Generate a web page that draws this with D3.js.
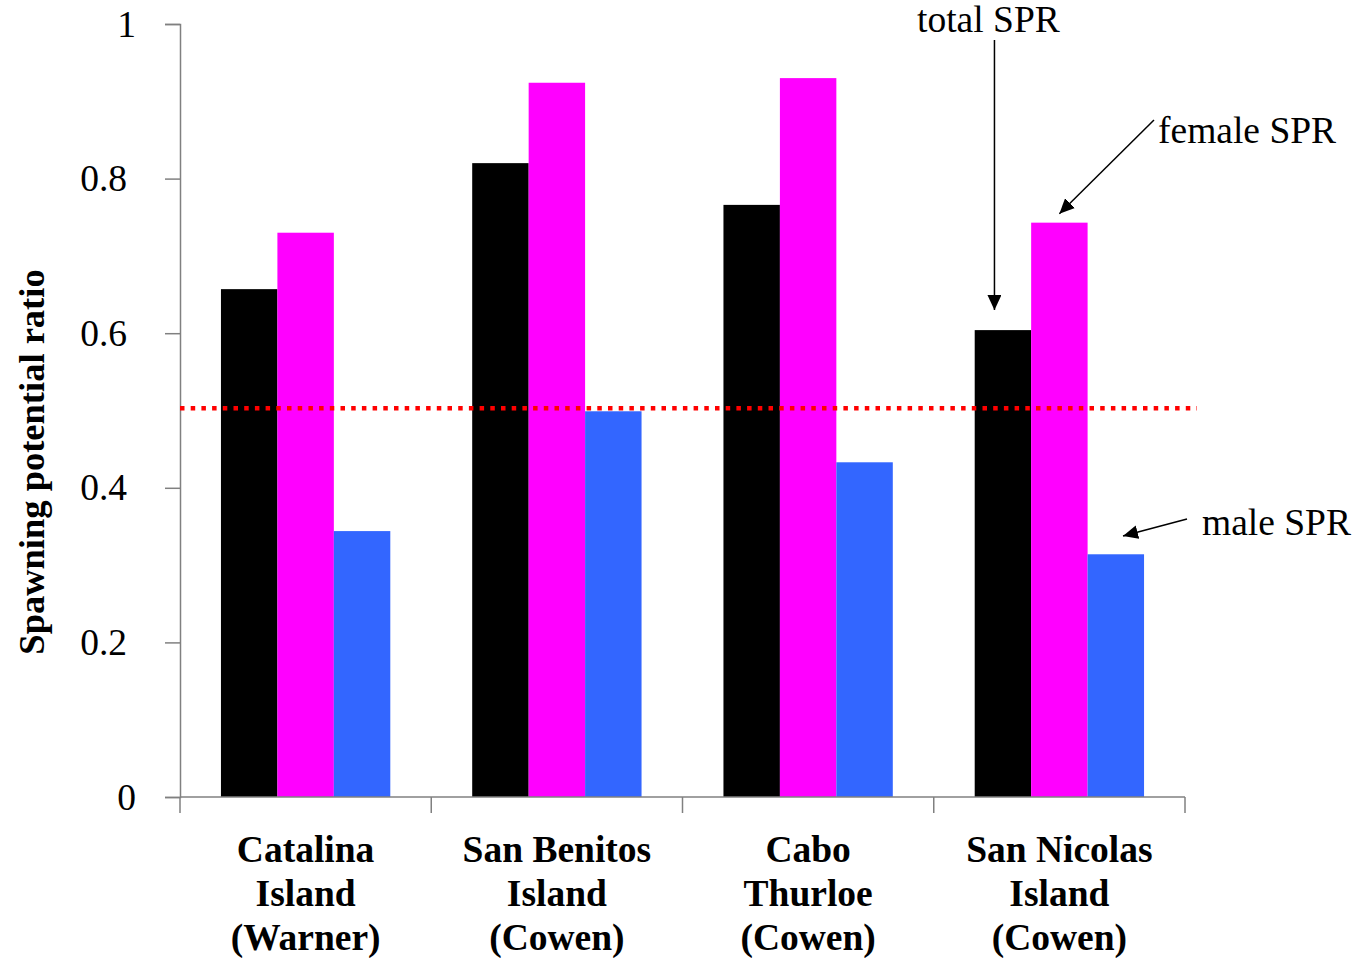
<!DOCTYPE html>
<html>
<head>
<meta charset="utf-8">
<script src="https://cdn.jsdelivr.net/npm/d3@7/dist/d3.min.js"></script>
<style>
  html, body { margin: 0; padding: 0; background: #fff; }
  svg { display: block; }
  text { font-family: "Liberation Serif", "Times New Roman", serif; }
</style>
</head>
<body>
<svg id="chart" width="1356" height="958"></svg>
<script>
const categories = [
  ["Catalina", "Island", "(Warner)"],
  ["San Benitos", "Island", "(Cowen)"],
  ["Cabo", "Thurloe", "(Cowen)"],
  ["San Nicolas", "Island", "(Cowen)"]
];
const seriesNames = ["total SPR", "female SPR", "male SPR"];
const totalSPR  = [0.657, 0.820, 0.766, 0.604];
const femaleSPR = [0.730, 0.924, 0.930, 0.743];
const maleSPR   = [0.344, 0.499, 0.433, 0.314];
const referenceLevel = 0.503;
const yTicks = [0, 0.2, 0.4, 0.6, 0.8, 1];
const yTickLabels = ["0", "0.2", "0.4", "0.6", "0.8", "1"];
const colors = ["#000000", "#FF00FF", "#3366FF"];

const svg = d3.select("#chart");
const plotLeft = 180, plotRight = 1185, plotTop = 24, plotBottom = 797;
const FS = 37.5;

const catKeys = categories.map((c, i) => i);
const x0 = d3.scaleBand().domain(catKeys).range([plotLeft, plotRight]).padding(0);
const bw = x0.bandwidth();
const x1 = d3.scaleBand().domain(seriesNames).range([bw * 0.163, bw * 0.837]).padding(0);
const y = d3.scaleLinear().domain([0, 1]).range([plotBottom, plotTop]);

const seriesValues = [totalSPR, femaleSPR, maleSPR];

// bars
seriesNames.forEach((s, si) => {
  svg.append("g").selectAll("rect")
    .data(seriesValues[si])
    .join("rect")
    .attr("x", (d, i) => x0(i) + x1(s))
    .attr("y", d => y(d))
    .attr("width", x1.bandwidth())
    .attr("height", d => y(0) - y(d))
    .attr("fill", colors[si]);
});

// y axis
const yAxis = d3.axisLeft(y).tickValues(yTicks)
  .tickFormat((d, i) => yTickLabels[i]).tickSize(15).tickPadding(38);
const gy = svg.append("g").attr("transform", `translate(${plotLeft},0)`).call(yAxis);
gy.attr("font-family", null).attr("font-size", null);
gy.select(".domain").attr("stroke", "#808080").attr("stroke-width", 1.5);
gy.selectAll(".tick line").attr("stroke", "#808080").attr("stroke-width", 1.5);
gy.selectAll(".tick text").attr("font-size", FS).attr("fill", "#000")
  .attr("font-family", "Liberation Serif")
  .attr("dx", function () { return this.textContent.length === 1 ? 9 : 0; });

// x axis line & ticks at band boundaries
const gx = svg.append("g");
gx.append("line").attr("x1", plotLeft).attr("x2", plotRight).attr("y1", y(0)).attr("y2", y(0))
  .attr("stroke", "#808080").attr("stroke-width", 1.5);
const boundaries = catKeys.map(i => x0(i)).concat([x0(catKeys[catKeys.length - 1]) + bw]);
gx.selectAll("line.tk").data(boundaries).join("line").attr("class", "tk")
  .attr("x1", d => d).attr("x2", d => d)
  .attr("y1", y(0)).attr("y2", y(0) + 16)
  .attr("stroke", "#808080").attr("stroke-width", 1.5);

// category labels
const lab = svg.append("g");
categories.forEach((lines, i) => {
  const t = lab.append("text")
    .attr("text-anchor", "middle")
    .attr("font-size", FS).attr("font-weight", "bold")
    .attr("x", x0(i) + bw / 2);
  lines.forEach((ln, j) => {
    t.append("tspan").attr("x", x0(i) + bw / 2).attr("y", 862 + j * 44).text(ln);
  });
});

// reference dotted line
svg.append("line")
  .attr("x1", plotLeft).attr("x2", 1197)
  .attr("y1", y(referenceLevel)).attr("y2", y(referenceLevel))
  .attr("stroke", "#FF0000").attr("stroke-width", 4.5)
  .attr("stroke-dasharray", "4.5 6.2");

// y title
svg.append("text")
  .attr("transform", "translate(44,462) rotate(-90)")
  .attr("text-anchor", "middle")
  .attr("font-size", 36.5).attr("font-weight", "bold")
  .text("Spawning potential ratio");

// annotations
const defs = svg.append("defs");
defs.append("marker").attr("id", "arrow")
  .attr("viewBox", "0 0 15 14").attr("refX", 15).attr("refY", 7)
  .attr("markerWidth", 15).attr("markerHeight", 14).attr("markerUnits", "userSpaceOnUse")
  .attr("orient", "auto")
  .append("path").attr("d", "M0,0 L15,7 L0,14 Z").attr("fill", "#000");

function arrow(x1a, y1a, x2a, y2a) {
  svg.append("line").attr("x1", x1a).attr("y1", y1a).attr("x2", x2a).attr("y2", y2a)
    .attr("stroke", "#000").attr("stroke-width", 1.5).attr("marker-end", "url(#arrow)");
}
const sn = 3;
const tipTotalX = x0(sn) + x1("total SPR") + x1.bandwidth() * 0.35;
svg.append("text").attr("x", 917).attr("y", 32).attr("font-size", FS).text(seriesNames[0]);
arrow(tipTotalX, 40, tipTotalX, y(totalSPR[sn]) - 20);
svg.append("text").attr("x", 1158).attr("y", 143).attr("font-size", FS).text(seriesNames[1]);
arrow(1154, 120, x0(sn) + x1("female SPR") + x1.bandwidth() * 0.5, y(femaleSPR[sn]) - 9);
svg.append("text").attr("x", 1202).attr("y", 535).attr("font-size", FS).text(seriesNames[2]);
arrow(1187, 519, 1123, 536);
</script>
</body>
</html>
